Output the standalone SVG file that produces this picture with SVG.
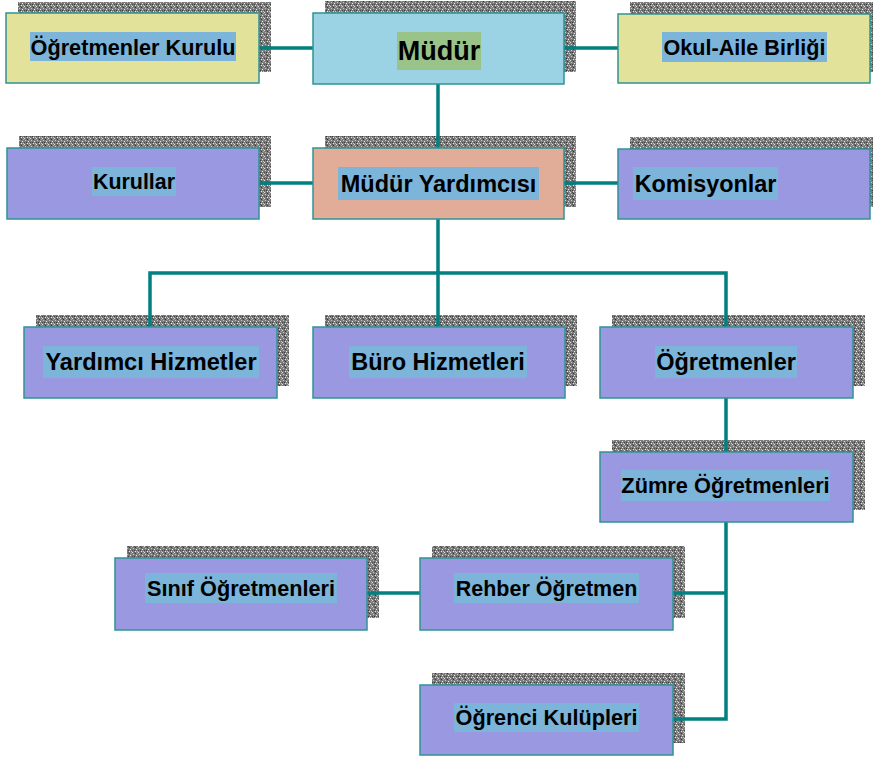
<svg xmlns="http://www.w3.org/2000/svg" width="873" height="760" viewBox="0 0 873 760">
<defs>
<pattern id="dither" width="6" height="6" patternUnits="userSpaceOnUse">
<rect width="6" height="6" fill="#7a7a7a"/>
<rect x="0" y="0" width="1" height="1" fill="#e0e0e0"/>
<rect x="3" y="1" width="1" height="1" fill="#333"/>
<rect x="1" y="2" width="1" height="1" fill="#c8c8c8"/>
<rect x="4" y="3" width="1" height="1" fill="#ececec"/>
<rect x="2" y="4" width="1" height="1" fill="#3c3c3c"/>
<rect x="5" y="5" width="1" height="1" fill="#c4c4c4"/>
<rect x="5" y="1" width="1" height="1" fill="#aaa"/>
<rect x="0" y="4" width="1" height="1" fill="#4a4a4a"/>
<rect x="3" y="5" width="1" height="1" fill="#e6e6e6"/>
<rect x="2" y="0" width="1" height="1" fill="#555"/>
</pattern>
</defs>
<style>
.sh{fill:url(#dither);}
.box{stroke:#2e9494;stroke-width:1.5;}
.y{fill:#e2e29b;}
.b{fill:#9bd2e4;}
.s{fill:#e2ad98;}
.p{fill:#9a98e0;}
.hl{fill:#7cb4da;}
.hg{fill:#99c389;}
.t{font-family:"Liberation Sans",Arial,sans-serif;font-weight:bold;fill:#000;text-anchor:middle;}
.c{stroke:#008080;stroke-width:3.5;fill:none;stroke-linejoin:miter;}
</style>
<rect width="873" height="760" fill="#fff"/>

<g id="shadows">
<rect class="sh" x="18" y="2" width="253" height="70"/>
<rect class="sh" x="325" y="1" width="251" height="71"/>
<rect class="sh" x="630" y="2" width="252" height="70"/>
<rect class="sh" x="19" y="136" width="252" height="71"/>
<rect class="sh" x="325" y="136" width="251" height="71"/>
<rect class="sh" x="630" y="137" width="252" height="70"/>
<rect class="sh" x="36" y="315" width="253" height="71"/>
<rect class="sh" x="325" y="315" width="252" height="71"/>
<rect class="sh" x="612" y="315" width="253" height="71"/>
<rect class="sh" x="612" y="440" width="253" height="70"/>
<rect class="sh" x="127" y="546" width="252" height="72"/>
<rect class="sh" x="432" y="546" width="253" height="72"/>
<rect class="sh" x="432" y="673" width="253" height="70"/>
</g>

<g id="connectors">
<line class="c" x1="259" y1="48" x2="313" y2="48"/>
<line class="c" x1="564" y1="48" x2="618" y2="48"/>
<line class="c" x1="438" y1="84" x2="438" y2="148"/>
<line class="c" x1="259" y1="183" x2="313" y2="183"/>
<line class="c" x1="564" y1="183" x2="618" y2="183"/>
<line class="c" x1="438" y1="219" x2="438" y2="327"/>
<polyline class="c" points="150,327 150,273 726,273 726,327"/>
<line class="c" x1="726" y1="398" x2="726" y2="452"/>
<polyline class="c" points="726,522 726,719 673,719"/>
<line class="c" x1="673" y1="593" x2="726" y2="593"/>
<line class="c" x1="367" y1="593" x2="420" y2="593"/>
</g>

<g id="ogretmenler-kurulu">
<rect class="box y" x="6" y="13" width="253" height="70"/>
<rect class="hl" x="30" y="32" width="206" height="29"/>
<text class="t" x="133" y="54.5" font-size="21.7">Öğretmenler Kurulu</text>
</g>
<g id="mudur">
<rect class="box b" x="313" y="13" width="251" height="71"/>
<rect class="hg" x="397" y="32" width="84" height="38"/>
<text class="t" x="439" y="60" font-size="27">Müdür</text>
</g>
<g id="okul-aile">
<rect class="box y" x="618" y="14" width="252" height="69"/>
<rect class="hl" x="662" y="32" width="165" height="30"/>
<text class="t" x="744.5" y="55" font-size="21.6">Okul-Aile Birliği</text>
</g>

<g id="kurullar">
<rect class="box p" x="7" y="148" width="252" height="71"/>
<rect class="hl" x="92" y="167" width="84" height="29"/>
<text class="t" x="134" y="189" font-size="21.4">Kurullar</text>
</g>
<g id="mudur-yardimcisi">
<rect class="box s" x="313" y="148" width="251" height="71"/>
<rect class="hl" x="338" y="167" width="201" height="33"/>
<text class="t" x="438.5" y="191.5" font-size="23.5">Müdür Yardımcısı</text>
</g>
<g id="komisyonlar">
<rect class="box p" x="618" y="149" width="252" height="70"/>
<rect class="hl" x="633" y="167" width="145" height="33"/>
<text class="t" x="705.5" y="191.5" font-size="23.4">Komisyonlar</text>
</g>

<g id="yardimci-hizmetler">
<rect class="box p" x="24" y="327" width="253" height="71"/>
<rect class="hl" x="43" y="346" width="216" height="32"/>
<text class="t" x="151" y="370" font-size="23.6">Yardımcı Hizmetler</text>
</g>
<g id="buro-hizmetleri">
<rect class="box p" x="313" y="327" width="252" height="71"/>
<rect class="hl" x="349" y="346" width="178" height="32"/>
<text class="t" x="438" y="370" font-size="23.5">Büro Hizmetleri</text>
</g>
<g id="ogretmenler">
<rect class="box p" x="600" y="327" width="253" height="71"/>
<rect class="hl" x="655" y="346" width="142" height="32"/>
<text class="t" x="726" y="370" font-size="23.5">Öğretmenler</text>
</g>

<g id="zumre-ogretmenleri">
<rect class="box p" x="600" y="452" width="253" height="70"/>
<rect class="hl" x="621" y="470" width="209" height="31"/>
<text class="t" x="725.5" y="493" font-size="21.8">Zümre Öğretmenleri</text>
</g>

<g id="sinif-ogretmenleri">
<rect class="box p" x="115" y="558" width="252" height="72"/>
<rect class="hl" x="145" y="573" width="192" height="30"/>
<text class="t" x="241" y="595.5" font-size="21.7">Sınıf Öğretmenleri</text>
</g>
<g id="rehber-ogretmen">
<rect class="box p" x="420" y="558" width="253" height="72"/>
<rect class="hl" x="454" y="573" width="185" height="30"/>
<text class="t" x="546.5" y="595.5" font-size="21.5">Rehber Öğretmen</text>
</g>
<g id="ogrenci-kulupleri">
<rect class="box p" x="420" y="685" width="253" height="70"/>
<rect class="hl" x="454" y="703" width="185" height="29"/>
<text class="t" x="546.5" y="725" font-size="21.7">Öğrenci Kulüpleri</text>
</g>
</svg>
